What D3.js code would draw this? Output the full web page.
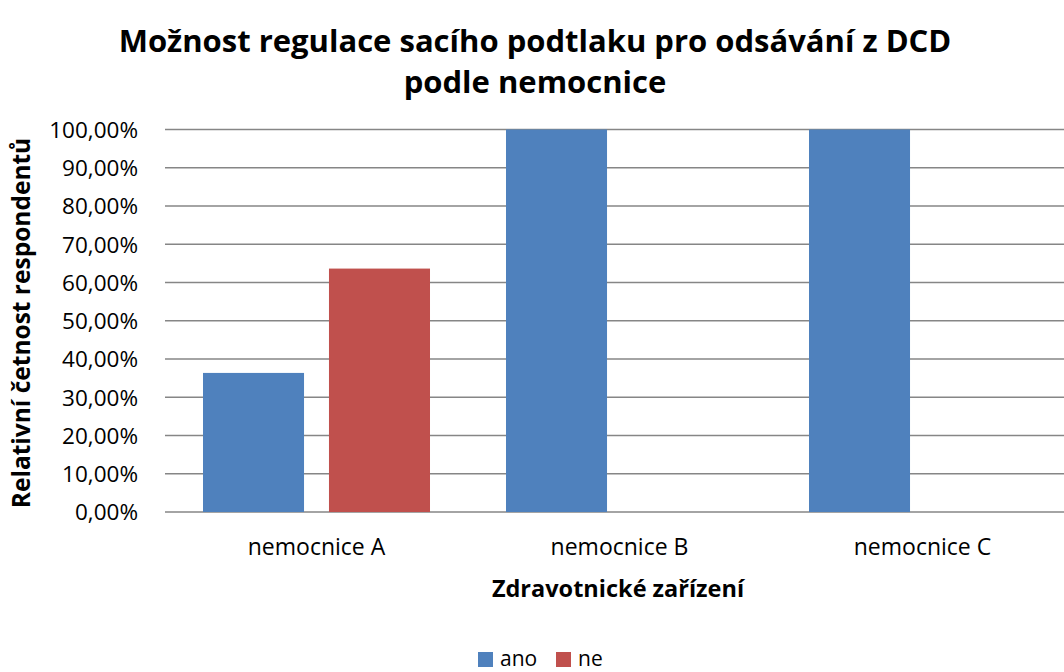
<!DOCTYPE html>
<html>
<head>
<meta charset="utf-8">
<script src="https://cdn.jsdelivr.net/npm/d3@7"></script>
<style>
  body { margin: 0; background: #fff; }
  svg { font-family: "Open Sans", sans-serif; }
  .tick text { fill: #000; }
</style>
</head>
<body>
<svg id="chart" width="1064" height="672"></svg>
<script>
var categories = ["nemocnice A", "nemocnice B", "nemocnice C"];
var seriesNames = ["ano", "ne"];
var ano = [0.3636, 1.0, 1.0];
var ne = [0.6364, 0, 0];
var yTicks = [0, 0.1, 0.2, 0.3, 0.4, 0.5, 0.6, 0.7, 0.8, 0.9, 1.0];
var colors = ["#4f81bd", "#c0504d"];

var svg = d3.select("#chart");
var margin = {top: 129.5, left: 165};
var width = 909, plotH = 382.5;

var x = d3.scaleBand()
  .domain(categories)
  .range([margin.left, margin.left + width])
  .paddingInner(0)
  .paddingOuter(0);

// two bars per category, ~101px wide with a 25px gap
var x1 = d3.scaleBand()
  .domain(seriesNames)
  .range([0, x.bandwidth()])
  .paddingInner(0.198)
  .paddingOuter(0.3016);

var y = d3.scaleLinear()
  .domain([0, 1])
  .range([margin.top + plotH, margin.top]);

var fmt = function(d) { return d3.format(".2f")(d * 100).replace(".", ",") + "%"; };

// gridlines
svg.append("g")
  .selectAll("line")
  .data(yTicks)
  .enter()
    .append("line")
    .attr("x1", margin.left)
    .attr("x2", 1064)
    .attr("y1", function(d) { return y(d); })
    .attr("y2", function(d) { return y(d); })
    .attr("stroke", "#868686")
    .attr("stroke-width", 1.5);

// bars
var data = categories.map(function(c, i) {
  return {cat: c, values: [{s: "ano", v: ano[i]}, {s: "ne", v: ne[i]}]};
});

var groups = svg.append("g")
  .selectAll("g")
  .data(data)
  .enter()
    .append("g")
    .attr("transform", function(d) { return "translate(" + x(d.cat) + ",0)"; });

groups.selectAll("rect")
  .data(function(d) { return d.values.filter(function(v) { return v.v > 0; }); })
  .enter()
    .append("rect")
    .attr("x", function(d) { return x1(d.s); })
    .attr("y", function(d) { return y(d.v); })
    .attr("width", x1.bandwidth())
    .attr("height", function(d) { return y(0) - y(d.v); })
    .attr("fill", function(d) { return colors[seriesNames.indexOf(d.s)]; });

// y axis labels
var yAxis = svg.append("g")
  .attr("transform", "translate(138,0)")
  .call(d3.axisLeft(y).tickValues(yTicks).tickFormat(fmt).tickSize(0).tickPadding(0));
yAxis.select(".domain").remove();
yAxis.selectAll("text")
  .attr("font-size", 22.5)
  .attr("font-family", "Open Sans, sans-serif")
  .attr("dy", "0.35em");

// x axis labels
var xAxis = svg.append("g")
  .attr("transform", "translate(0," + y(0) + ")")
  .call(d3.axisBottom(x).tickSize(0).tickPadding(27));
xAxis.select(".domain").remove();
xAxis.selectAll("text")
  .attr("font-size", 23)
  .attr("font-family", "Open Sans, sans-serif");

// title
svg.append("text")
  .attr("x", 535)
  .attr("y", 52)
  .attr("text-anchor", "middle")
  .attr("font-size", 31)
  .attr("font-weight", "bold")
  .text("Možnost regulace sacího podtlaku pro odsávání z DCD");
svg.append("text")
  .attr("x", 535)
  .attr("y", 93)
  .attr("text-anchor", "middle")
  .attr("font-size", 31)
  .attr("font-weight", "bold")
  .text("podle nemocnice");

// axis titles
svg.append("text")
  .attr("transform", "rotate(-90)")
  .attr("x", -323)
  .attr("y", 30)
  .attr("text-anchor", "middle")
  .attr("font-size", 24.5)
  .attr("font-weight", "bold")
  .text("Relativní četnost respondentů");

svg.append("text")
  .attr("x", 618)
  .attr("y", 597)
  .attr("text-anchor", "middle")
  .attr("font-size", 23.5)
  .attr("font-weight", "bold")
  .text("Zdravotnické zařízení");

// legend
var legend = svg.append("g").attr("transform", "translate(478,652)");
var litems = [{s: "ano", x: 0}, {s: "ne", x: 78}];
litems.forEach(function(d, i) {
  legend.append("rect")
    .attr("x", d.x)
    .attr("y", 0)
    .attr("width", 15)
    .attr("height", 15)
    .attr("fill", colors[i]);
  legend.append("text")
    .attr("x", d.x + 22)
    .attr("y", 14)
    .attr("font-size", 21)
    .text(d.s);
});
</script>
</body>
</html>
